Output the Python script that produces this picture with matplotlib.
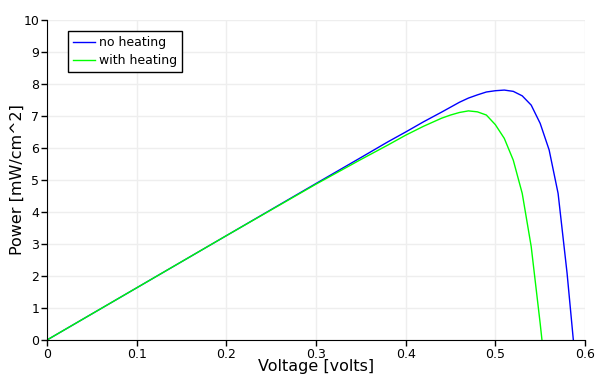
import matplotlib
matplotlib.use("Agg")
import matplotlib.pyplot as plt

# readings
v_no_heat = [0, 0.1, 0.2, 0.3, 0.35, 0.38, 0.40, 0.42, 0.44, 0.46, 0.47, 0.48, 0.49,
             0.50, 0.51, 0.52, 0.53, 0.54, 0.55, 0.56, 0.57, 0.58, 0.587]
p_no_heat = [0, 1.63, 3.26, 4.89, 5.70, 6.19, 6.50, 6.82, 7.12, 7.43, 7.56, 7.66, 7.75,
             7.79, 7.81, 7.77, 7.63, 7.34, 6.77, 5.94, 4.58, 2.09, 0]

v_heat = [0, 0.1, 0.2, 0.3, 0.35, 0.38, 0.40, 0.42, 0.44, 0.45, 0.46, 0.47, 0.48,
          0.49, 0.50, 0.51, 0.52, 0.53, 0.54, 0.55, 0.552]
p_heat = [0, 1.63, 3.26, 4.87, 5.64, 6.09, 6.40, 6.68, 6.93, 7.03, 7.11, 7.16, 7.13,
          7.03, 6.73, 6.30, 5.62, 4.58, 2.92, 0.52, 0]

xticks = [0, 0.1, 0.2, 0.3, 0.4, 0.5, 0.6]
xtick_labels = ["0", "0.1", "0.2", "0.3", "0.4", "0.5", "0.6"]
yticks = list(range(0, 11))

fig = plt.figure(figsize=(6.09, 3.83), dpi=100)
ax = fig.add_axes([47 / 609, 1 - 340 / 383, 538 / 609, 320 / 383])

ax.plot(v_no_heat, p_no_heat, color="#0000ff", lw=1, label="no heating")
ax.plot(v_heat, p_heat, color="#00ff00", lw=1, label="with heating")

ax.set_xlim(0, 0.6)
ax.set_ylim(0, 10)
ax.set_xticks(xticks)
ax.set_xticklabels(xtick_labels)
ax.set_yticks(yticks)
ax.tick_params(direction="out", length=4, width=1, labelsize=9, pad=1.5)
ax.grid(True, color="#eeeeee", lw=1)
ax.set_axisbelow(True)
for side in ["top", "right"]:
    ax.spines[side].set_visible(False)

ax.set_xlabel("Voltage [volts]", fontsize=11.5, labelpad=-1)
ax.set_ylabel("Power [mW/cm^2]", fontsize=11.5, labelpad=0)
ax.yaxis.set_label_coords(-0.042, 0.5)

leg = ax.legend(loc="upper left", bbox_to_anchor=(0.039, 0.965), fontsize=9,
                fancybox=False, framealpha=1, edgecolor="black",
                handlelength=1.75, handletextpad=0.3, borderpad=0.4,
                labelspacing=0.4, borderaxespad=0)
leg.get_frame().set_linewidth(1)

fig.savefig("out.png", dpi=100)
